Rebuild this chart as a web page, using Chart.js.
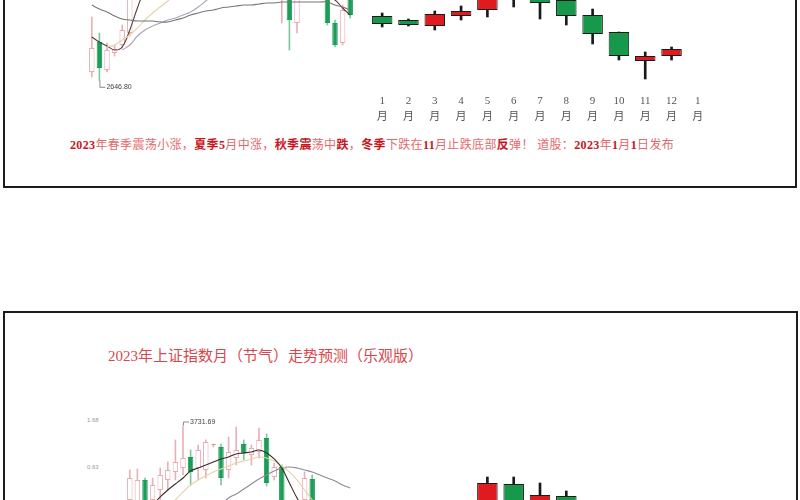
<!DOCTYPE html>
<html>
<head>
<meta charset="utf-8">
<script src="https://cdn.jsdelivr.net/npm/chart.js@4.4.0/dist/chart.umd.min.js"></script>
<style>
  html, body { margin: 0; padding: 0; background: #fff; width: 800px; height: 500px; overflow: hidden; }
  .frame { position: absolute; box-sizing: border-box; border: 2px solid #1c1c1c; }
  canvas { position: absolute; }
  .txt { position: absolute; white-space: nowrap; font-family: "Liberation Serif", "Noto Sans CJK SC", serif; }
  #summary { left: 70px; top: 137px; font-size: 12px; line-height: 16px; color: #e46a6a; letter-spacing: 0.35px; }
  #summary b { color: #c8161e; }
  #title { left: 108px; top: 346px; font-size: 15px; line-height: 20px; color: #d9474c; }
  .ylab { position: absolute; font-family: "Liberation Sans", sans-serif; font-size: 6px; color: #999; }
</style>
</head>
<body>
<div class="frame" style="left:3px; top:-10px; width:794px; height:198px"></div>
<div class="frame" style="left:3px; top:311px; width:795px; height:260px"></div>

<canvas id="histTop" width="266" height="140" style="left:88px; top:-40px"></canvas>
<canvas id="forecastTop" width="342" height="168" style="left:369px; top:-40px"></canvas>

<div id="summary" class="txt"><b>2023</b>年春季震荡小涨，<b>夏季5</b>月中涨，<b>秋季震</b>荡中<b>跌</b>，<b>冬季</b>下跌在<b>11</b>月止跌底部<b>反</b>弹！ 道股：<b>2023</b>年<b>1</b>月<b>1</b>日发布</div>

<div id="title" class="txt">2023年上证指数月（节气）走势预测（乐观版）</div>
<span class="ylab" style="left:87px; top:417px">1.68</span>
<span class="ylab" style="left:87px; top:464px">0.63</span>

<canvas id="histBottom" width="228" height="105" style="left:126px; top:405px"></canvas>
<canvas id="forecastBottom" width="342" height="60" style="left:369px; top:460px"></canvas>

<script>
// Month labels (forecast axis)
const monthLabels = [['1','月'],['2','月'],['3','月'],['4','月'],['5','月'],['6','月'],['7','月'],
  ['8','月'],['9','月'],['10','月'],['11','月'],['12','月'],['1','月']];

// 2023 forecast, top panel
const fcOpen  = [3220, 3200, 3170, 3220, 3250, 3360, 3330, 3300, 3225, 3140, 2995, 3020];
const fcClose = [3180, 3175, 3230, 3245, 3340, 3310, 3285, 3220, 3130, 3020, 3020, 3055];
const fcHigh  = [3235, 3205, 3245, 3270, 3370, 3380, 3360, 3320, 3255, 3140, 3040, 3065];
const fcLow   = [3165, 3170, 3150, 3200, 3215, 3265, 3205, 3175, 3080, 3000, 2905, 3000];

// 2023 forecast, bottom panel (optimistic)
const optOpen  = [3120, 3170, 3150, 3220, 3350, 3480, 3370, 3420, 3350, 3280, 3220, 3240];
const optClose = [3170, 3150, 3220, 3260, 3485, 3360, 3425, 3350, 3280, 3220, 3240, 3280];
const optHigh  = [3190, 3185, 3240, 3290, 3515, 3515, 3485, 3445, 3370, 3290, 3260, 3295];
const optLow   = [3100, 3130, 3140, 3200, 3320, 3330, 3340, 3310, 3250, 3200, 3150, 3230];

// history, top panel
const histOpen  = [2730, 3030, 2750, 2920, 3000, 3120, 3500, 3580, 3620, 3560, 3640, 3700, 3650, 3720, 3680, 3740, 3700, 3760,
  3690, 3720, 3650, 3690, 3620, 3660, 3590, 3470, 3600, 3220, 3520, 3580, 3540, 3600, 3220, 3020, 3500];
const histClose = [2970, 2770, 2950, 2960, 3150, 3500, 3580, 3620, 3560, 3640, 3700, 3650, 3720, 3680, 3740, 3700, 3760, 3690,
  3720, 3650, 3690, 3620, 3660, 3590, 3630, 3650, 3250, 3500, 3580, 3540, 3600, 3220, 3000, 3350, 3300];
const histHigh  = [3280, 3120, 3020, 3000, 3200, 3600, 3640, 3700, 3680, 3720, 3760, 3780, 3800, 3790, 3810, 3820, 3830, 3800,
  3790, 3760, 3740, 3720, 3700, 3690, 3670, 3700, 3650, 3550, 3620, 3640, 3660, 3650, 3250, 3400, 3550];
const histLow   = [2680, 2646.80, 2730, 2890, 2970, 3090, 3480, 3540, 3520, 3530, 3600, 3620, 3610, 3640, 3650, 3660, 3670, 3650,
  3640, 3600, 3590, 3570, 3560, 3540, 3520, 3220, 2950, 3120, 3480, 3490, 3500, 3200, 2980, 3000, 3270];
const histMaA = [3400, 3360, 3330, 3290, 3260, 3250, 3240, 3240, 3240, 3230, 3230, 3250, 3270, 3300, 3320, 3340, 3350, 3370,
  3380, 3390, 3400, 3400, 3410, 3420, 3420, 3430, 3430, 3430, 3430, 3430, 3430, 3430, 3400, 3380, 3350];
const histMaB = [null, null, null, null, 2950, 3000, 3090, 3150, 3190, 3220, 3250, 3270, 3300, 3330, 3380, 3440, 3500, 3540,
  3570, 3590, 3610, 3620, 3625, 3630, 3630, 3625, 3620, 3610, 3600, 3590, 3580, 3570, 3550, 3530, 3510];
const histMaC = [null, null, 2980, 3000, 3050, 3100, 3170, 3250, 3320, 3380, 3440, 3500, 3540, 3570, 3600, 3620, 3640, 3650,
  3660, 3660, 3650, 3640, 3630, 3620, 3610, 3600, 3580, 3560, 3550, 3550, 3540, 3520, 3490, 3470, 3460];
const histMaD = [3080, 3030, 2990, 2950, 2980, 3150, 3370, 3550, 3600, 3620, 3660, 3680, 3690, 3700, 3710, 3720, 3730, 3720,
  3710, 3690, 3670, 3650, 3630, 3610, 3600, 3590, 3560, 3520, 3500, 3520, 3530, 3480, 3450, 3370, 3300];

// history, bottom panel
const pastOpen  = [3132, 3092, 3292, 3132, 3212, 3292, 3356, 3388, 3476, 3388, 3372, 3572, 3556, 3372, 3468, 3580, 3492, 3516,
  3628, 3316, 3396, 3100, 3010, 3132, 3300, 3080, 3000, 3060, 2990, 3050];
const pastClose = [3308, 3292, 3052, 3252, 3332, 3372, 3436, 3468, 3356, 3532, 3596, 3576, 3308, 3516, 3532, 3508, 3548, 3612,
  3268, 3396, 3092, 3000, 3100, 3308, 3092, 3000, 3060, 2990, 3050, 3100];
const pastHigh  = [3372, 3380, 3308, 3308, 3388, 3436, 3612, 3731.69, 3532, 3572, 3612, 3580, 3580, 3636, 3716, 3612, 3572, 3708,
  3660, 3428, 3412, 3120, 3125, 3356, 3332, 3110, 3100, 3090, 3080, 3120];
const pastLow   = [3092, 3052, 3012, 3092, 3132, 3212, 3292, 3332, 3252, 3292, 3308, 3556, 3252, 3308, 3412, 3452, 3412, 3468,
  3244, 3292, 3052, 2960, 2980, 3092, 3052, 2960, 2980, 2960, 2970, 3020];
const pastMaA = [2932, 2972, 3036, 3092, 3156, 3212, 3260, 3308, 3364, 3388, 3412, 3436, 3460, 3476, 3500, 3508, 3516, 3532,
  3508, 3460, 3388, 3268, 3148, 3052, 3012, 2988, 2988, 3004, 3020, 3036];
const pastMaB = [3000, 3010, 3020, 3030, 3040, 3052, 3132, 3196, 3252, 3292, 3324, 3356, 3380, 3404, 3428, 3444, 3460, 3476,
  3468, 3444, 3404, 3356, 3292, 3212, 3132, 3068, 3020, 2990, 2970, 2960];
const pastMaC = [2880, 2900, 2920, 2940, 2960, 2980, 3000, 3020, 3040, 3055, 3070, 3082, 3092, 3148, 3180, 3220, 3260, 3300,
  3332, 3364, 3388, 3396, 3388, 3372, 3356, 3332, 3308, 3284, 3252, 3228];

// leader line + value label at an extreme candle
const extremeNote = {
  id: 'extremeNote',
  afterDatasetsDraw(chart, args, opts) {
    if (!opts || opts.text === undefined) return;
    const { ctx, scales } = chart;
    const x = scales.x.getPixelForValue(opts.index);
    const y = scales.y.getPixelForValue(opts.value);
    const ty = opts.dir === 'down' ? y + 7 : y - 3;
    ctx.save();
    ctx.strokeStyle = '#8a8a8a';
    ctx.lineWidth = 1;
    ctx.beginPath();
    ctx.moveTo(x + 0.5, y);
    ctx.lineTo(x + 0.5, ty);
    ctx.lineTo(x + 6, ty);
    ctx.stroke();
    ctx.fillStyle = '#444';
    ctx.font = '7px "Liberation Sans", sans-serif';
    ctx.textBaseline = 'middle';
    ctx.fillText(opts.text, x + 7, ty);
    ctx.restore();
  }
};

function candleSets(open, high, low, close, look) {
  const up = open.map((o, i) => close[i] > o);
  const flat = open.map((o, i) => Math.abs(close[i] - o) < 6);
  return [
    {
      type: 'bar', order: 1, grouped: false,
      data: open.map((o, i) => [o, close[i]]),
      backgroundColor: up.map((u, i) => flat[i] ? look.flat : (u ? look.upFill : look.downFill)),
      borderColor: up.map((u, i) => flat[i] ? look.flat : (u ? look.upEdge : look.downEdge)),
      borderWidth: 1, borderSkipped: false,
      barPercentage: look.body, categoryPercentage: 1
    },
    {
      type: 'bar', order: 2, grouped: false,
      data: low.map((l, i) => [l, high[i]]),
      backgroundColor: up.map(u => u ? look.upWick : look.downWick),
      barThickness: look.wick
    }
  ];
}

function maLine(data, color) {
  return { type: 'line', order: 0, data, borderColor: color, borderWidth: 1.1,
    pointRadius: 0, tension: 0.35, fill: false };
}

function baseOptions(yMin, yMax) {
  return {
    responsive: false, animation: false, devicePixelRatio: 1,
    layout: { padding: 0 },
    plugins: { legend: { display: false }, tooltip: { enabled: false } },
    scales: {
      x: { display: false },
      y: { display: false, min: yMin, max: yMax }
    }
  };
}

const forecastLook = { upFill: '#e01b1f', upEdge: '#1a1a1a', downFill: '#16994a', downEdge: '#1a1a1a',
  upWick: '#1a1a1a', downWick: '#1a1a1a', flat: '#1a1a1a', body: 0.78, wick: 2 };
const historyLook = { upFill: '#ffffff', upEdge: '#e9a9b1', downFill: '#1c9d57', downEdge: '#1c9d57',
  upWick: '#eab0b8', downWick: '#7fc79e', flat: '#222', body: 0.72, wick: 1 };

// top panel history
const histTopOptions = baseOptions(2450, 3850);
histTopOptions.plugins.extremeNote = { index: 1, value: 2646.80, text: '2646.80', dir: 'down' };
new Chart(document.getElementById('histTop'), {
  type: 'bar',
  data: {
    labels: histOpen.map((_, i) => String(i)),
    datasets: [
      maLine(histMaA, '#777777'),
      maLine(histMaB, '#a9a3b8'),
      maLine(histMaC, '#e3d3a6'),
      maLine(histMaD, '#5a3a3a'),
      ...candleSets(histOpen, histHigh, histLow, histClose, historyLook)
    ]
  },
  options: histTopOptions,
  plugins: [extremeNote]
});

// top panel forecast
const fcOptions = baseOptions(2860, 3500);
fcOptions.scales.x = {
  display: true,
  grid: { display: false, drawTicks: false },
  border: { display: false },
  ticks: { color: '#555', padding: 5, autoSkip: false, maxRotation: 0,
    font: { family: '"Liberation Serif", "Noto Sans CJK SC", serif', size: 11, lineHeight: 1.45 } },
  afterFit(scale) { scale.height = 40; }
};
new Chart(document.getElementById('forecastTop'), {
  type: 'bar',
  data: { labels: monthLabels, datasets: candleSets(fcOpen, fcHigh, fcLow, fcClose, forecastLook) },
  options: fcOptions
});

// bottom panel history
const histBottomOptions = baseOptions(3051.69, 3891.69);
histBottomOptions.plugins.extremeNote = { index: 7, value: 3731.69, text: '3731.69', dir: 'up' };
new Chart(document.getElementById('histBottom'), {
  type: 'bar',
  data: {
    labels: pastOpen.map((_, i) => String(i)),
    datasets: [
      maLine(pastMaA, '#3a2a2a'),
      maLine(pastMaB, '#e6d2a8'),
      maLine(pastMaC, '#8f8a94'),
      ...candleSets(pastOpen, pastHigh, pastLow, pastClose, historyLook)
    ]
  },
  options: histBottomOptions,
  plugins: [extremeNote]
});

// bottom panel forecast
new Chart(document.getElementById('forecastBottom'), {
  type: 'bar',
  data: { labels: monthLabels, datasets: candleSets(optOpen, optHigh, optLow, optClose, forecastLook) },
  options: baseOptions(3300, 3600)
});
</script>
</body>
</html>
